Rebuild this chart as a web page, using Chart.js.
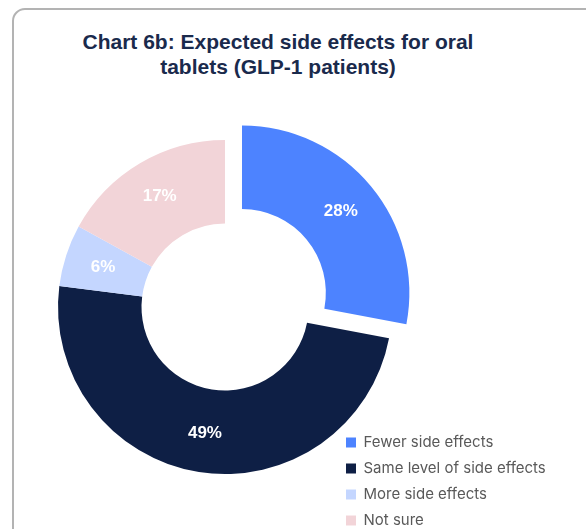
<!DOCTYPE html>
<html>
<head>
<meta charset="utf-8">
<script src="https://cdn.jsdelivr.net/npm/chart.js@4/dist/chart.umd.min.js"></script>
<style>
    html, body { margin: 0; padding: 0; background: #fff; }
    body { width: 586px; height: 529px; position: relative; overflow: hidden; }
    .card {
        position: absolute; left: 12px; top: 8px;
        width: 640px; height: 600px;
        border: 2px solid #b3b3b3; border-radius: 13px;
        background: #fff;
    }
    .title {
        position: absolute; left: 0; top: 29px; width: 556px;
        text-align: center;
        font-family: "Liberation Sans", Arial, sans-serif;
        font-weight: bold; font-size: 21px; line-height: 25px;
        color: #1a2a4c;
    }
    .chart-box { position: absolute; left: 0; top: 0; width: 586px; height: 539px; }
</style>
</head>
<body>
<div class="card"></div>
<div class="title">Chart 6b: Expected side effects for oral<br>tablets (GLP-1 patients)</div>
<div class="chart-box"><canvas id="sideEffects"></canvas></div>
<script>
    // Share of GLP-1 patients by expected side effects of oral tablets [%]
    var CATEGORIES = ['Fewer side effects', 'Same level of side effects', 'More side effects', 'Not sure'];
    var SHARES = [28, 49, 6, 17];
    var SLICE_COLORS = ['#4d83ff', '#0e1f45', '#c4d6ff', '#f2d4d8'];

    // Arc offset is drawn at a quarter of the option value
    var EXPLODE_PX = 22;

    // White percentage text in the middle of each ring segment
    var sliceLabels = {
        id: 'sliceLabels',
        afterDatasetsDraw: function (chart) {
            var ctx = chart.ctx;
            var meta = chart.getDatasetMeta(0);
            ctx.save();
            ctx.font = 'bold 17px "Liberation Sans", Arial, sans-serif';
            ctx.fillStyle = '#ffffff';
            ctx.textAlign = 'center';
            ctx.textBaseline = 'middle';
            meta.data.forEach(function (arc, i) {
                var p = arc.getProps(['x', 'y', 'startAngle', 'endAngle', 'innerRadius', 'outerRadius']);
                var mid = (p.startAngle + p.endAngle) / 2;
                var r = (p.innerRadius + p.outerRadius) / 2 + 3 + (arc.options.offset || 0) / 4;
                ctx.fillText(SHARES[i] + '%', p.x + Math.cos(mid) * r, p.y + Math.sin(mid) * r);
            });
            ctx.restore();
        },
    };

    new Chart(document.getElementById('sideEffects'), {
        type: 'doughnut',
        data: {
            labels: CATEGORIES,
            datasets: [{
                data: SHARES,
                backgroundColor: SLICE_COLORS,
                borderWidth: 0,
                radius: 167,
                offset: function (c) { return c.dataIndex === 0 ? EXPLODE_PX * 4 : 0; },
                clip: false,
            }],
        },
        options: {
            responsive: true,
            maintainAspectRatio: false,
            animation: false,
            cutout: '50%',
            layout: { padding: { left: 115, top: 75, right: 31, bottom: 0 } },
            plugins: {
                legend: {
                    position: 'right',
                    align: 'end',
                    labels: {
                        boxWidth: 10,
                        boxHeight: 10,
                        padding: 11,
                        color: '#595959',
                        font: { family: 'Inter', size: 15 },
                    },
                },
                tooltip: { enabled: false },
            },
        },
        plugins: [sliceLabels],
    });
</script>
</body>
</html>
